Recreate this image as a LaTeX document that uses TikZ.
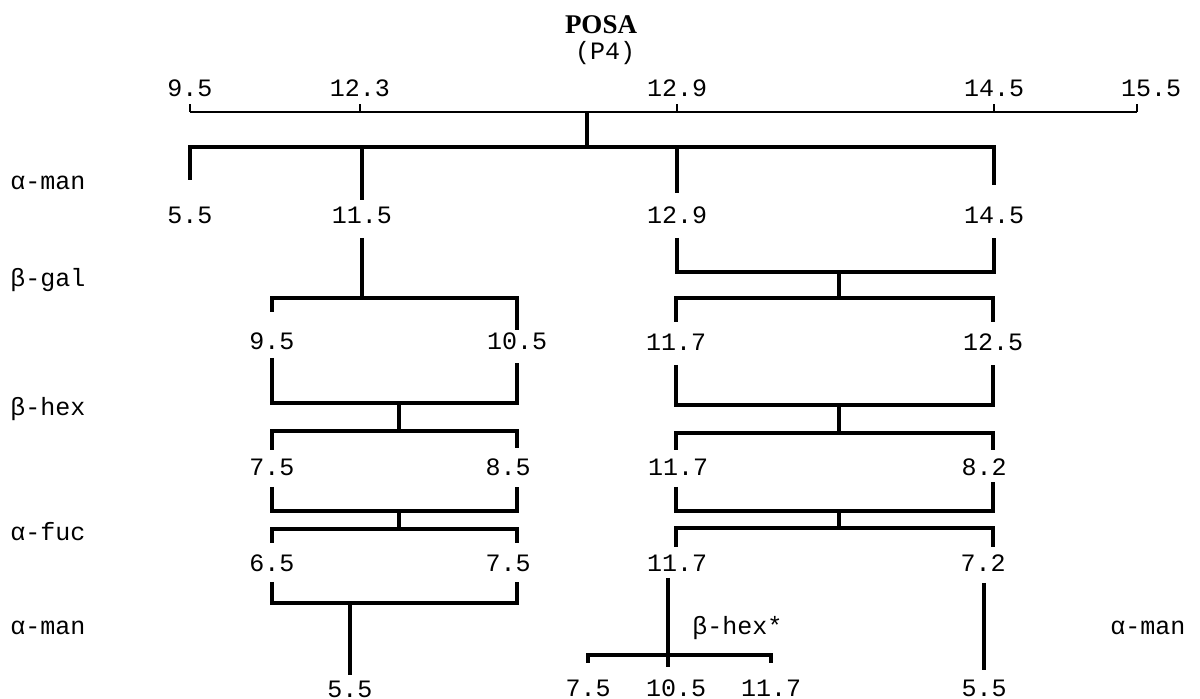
\documentclass[tikz,border=0pt]{standalone}
\usepackage{fontspec}
\setmainfont{Liberation Mono}
\newfontfamily\titlefont{Liberation Serif}
\tikzstyle{num}=[font=\fontsize{12.5}{14}\selectfont, inner sep=0pt]
\tikzstyle{sugar}=[font=\fontsize{12.5}{14}\selectfont, inner sep=0pt, anchor=west]
\tikzstyle{br}=[line width=1.6pt, line join=miter]
\tikzstyle{ax}=[line width=1.1pt]
\tikzstyle{tick}=[line width=1pt]

\begin{document}
\begin{tikzpicture}[x=0.5pt, y=-0.5pt]
\useasboundingbox (0,0) rectangle (1200,699);

% title
\node[font=\titlefont\bfseries\fontsize{13.5}{15}\selectfont, inner sep=0pt] (posa) at (601,25) {POSA};
\node[num] (p4) at (605,53) {(P4)};

% sugar rows
\node[sugar] (lman1) at (10,183) {α-man};
\node[sugar] (lgal) at (10,280) {β-gal};
\node[sugar] (lhex) at (10,409) {β-hex};
\node[sugar] (lfuc) at (10,532) {α-fuc};
\node[sugar] (lman2) at (10,628) {α-man};
\node[sugar] (rman) at (1110,628) {α-man};
\node[sugar] (hexstar) at (692,628) {β-hex*};

% nodes
\node[num] (t95) at (190,88) {9.5};
\node[num] (t123) at (360,88) {12.3};
\node[num] (t129) at (677,88) {12.9};
\node[num] (t145) at (994,88) {14.5};
\node[num] (t155) at (1151,88) {15.5};
\node[num] (a55) at (190,215) {5.5};
\node[num] (a115) at (362,215) {11.5};
\node[num] (a129) at (677,215) {12.9};
\node[num] (a145) at (994,215) {14.5};
\node[num] (g95) at (272,341) {9.5};
\node[num] (g105) at (517,341) {10.5};
\node[num] (g117) at (676,342) {11.7};
\node[num] (g125) at (993,342) {12.5};
\node[num] (h75) at (272,467) {7.5};
\node[num] (h85) at (508,467) {8.5};
\node[num] (h117) at (678,467) {11.7};
\node[num] (h82) at (984,467) {8.2};
\node[num] (f65) at (272,563) {6.5};
\node[num] (f75) at (508,563) {7.5};
\node[num] (f117) at (677,563) {11.7};
\node[num] (f72) at (983,563) {7.2};
\node[num] (m55) at (350,689) {5.5};
\node[num] (b75) at (588,688) {7.5};
\node[num] (b105) at (676,688) {10.5};
\node[num] (b117) at (771,688) {11.7};
\node[num] (m55r) at (984,688) {5.5};

% junctions
\coordinate (root) at (587,112);
\coordinate (axend) at (1137,112);
\coordinate (jl) at (399,0);
\coordinate (jr) at (839,0);
\coordinate (hx) at (668,0);

% axis
\draw[ax] (t95 |- root) -- (axend);
\foreach \n in {t95,t123,t129,t145}
  \draw[tick] (\n |- root) -- ++(0,-8);
\draw[tick] (axend) -- ++(0,-8);

% alpha-man
\draw[br] (root) -- (root |- 0,147);
\draw[br] (a55 |- 0,180) -- (a55 |- 0,147) -| (a145 |- 0,185);
\draw[br] (a115 |- 0,147) -- (a115 |- 0,200);
\draw[br] (a129 |- 0,147) -- (a129 |- 0,193);

% beta-gal
\draw[br] (a115 |- 0,238) -- (a115 |- 0,298);
\draw[br] (g95 |- 0,312) -- (g95 |- 0,298) -| (g105 |- 0,330);
\draw[br] (a129 |- 0,238) -- (a129 |- 0,272) -| (a145 |- 0,238);
\draw[br] (jr |- 0,272) -- (jr |- 0,298);
\draw[br] (g117 |- 0,322) -- (g117 |- 0,298) -| (g125 |- 0,322);

% beta-hex
\draw[br] (g95 |- 0,358) -- (g95 |- 0,403) -| (g105 |- 0,363);
\draw[br] (jl |- 0,403) -- (jl |- 0,431);
\draw[br] (g95 |- 0,450) -- (g95 |- 0,431) -| (g105 |- 0,448);
\draw[br] (g117 |- 0,365) -- (g117 |- 0,405) -| (g125 |- 0,365);
\draw[br] (jr |- 0,405) -- (jr |- 0,433);
\draw[br] (g117 |- 0,450) -- (g117 |- 0,433) -| (g125 |- 0,450);

% alpha-fuc
\draw[br] (g95 |- 0,487) -- (g95 |- 0,511) -| (g105 |- 0,487);
\draw[br] (jl |- 0,511) -- (jl |- 0,529);
\draw[br] (g95 |- 0,543) -- (g95 |- 0,529) -| (g105 |- 0,543);
\draw[br] (g117 |- 0,487) -- (g117 |- 0,511) -| (g125 |- 0,482);
\draw[br] (jr |- 0,511) -- (jr |- 0,528);
\draw[br] (g117 |- 0,547) -- (g117 |- 0,528) -| (g125 |- 0,547);

% alpha-man
\draw[br] (g95 |- 0,582) -- (g95 |- 0,603) -| (g105 |- 0,582);
\draw[br] (m55 |- 0,603) -- (m55 |- 0,675);
\draw[br] (hx |- 0,578) -- (hx |- 0,667);
\draw[br] (b75 |- 0,663) -- (b75 |- 0,655) -| (b117 |- 0,663);
\draw[br] (m55r |- 0,583) -- (m55r |- 0,670);

\end{tikzpicture}
\end{document}
